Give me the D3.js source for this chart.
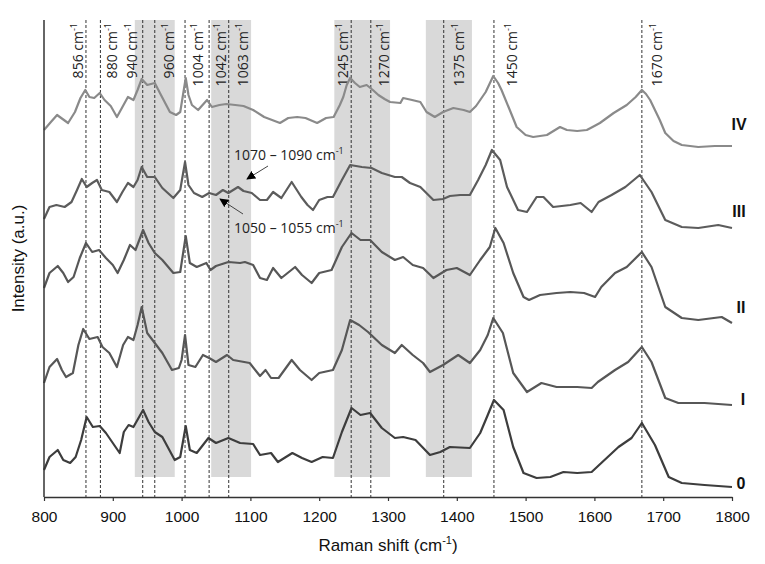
<!DOCTYPE html>
<html><head><meta charset="utf-8">
<script src="https://cdn.jsdelivr.net/npm/d3@7"></script>
<style>body{margin:0;background:#fff} svg{display:block}</style>
</head><body><svg id="chart" width="765" height="564"></svg>
<script>
// ---------- data ----------
const xTicks = [800, 900, 1000, 1100, 1200, 1300, 1400, 1500, 1600, 1700, 1800];
const bands = [[932, 990], [1043, 1101], [1222, 1303], [1355, 1422]];
const markerShifts = [861, 882, 943.5, 961, 1005, 1040, 1068.5, 1246.5, 1275, 1381, 1454, 1669];
const markerLabels = ["856", "880", "940", "960", "1004", "1042", "1063", "1245", "1270", "1375", "1450", "1670"];
const seriesNames = ["IV", "III", "II", "I", "0"];
const annotationTexts = ["1070 – 1090", "1050 – 1055"];

const seriesIV = [[800,367],[810,375],[819,382],[827,378],[835,374],[845,385],[853,399],[860,407],[866,400],[873,399],[881,404],[888,397],[897,391],[906,380],[914,390],[922,400],[930,397],[936,407],[942,418],[950,412],[961,414],[970,402],[983,385],[992,382],[998,385],[1002,402],[1006,419],[1010,402],[1015,392],[1024,387],[1037,397],[1044,390],[1055,392],[1065,393],[1078,392],[1090,391],[1104,387],[1120,380],[1143,374],[1155,379],[1168,380],[1180,379],[1197,374],[1210,379],[1221,380],[1230,392],[1235,400],[1240,412],[1245,419],[1252,414],[1259,410],[1269,412],[1278,407],[1286,402],[1295,398],[1303,395],[1318,394],[1322,399],[1335,397],[1347,395],[1356,385],[1368,380],[1380,385],[1395,389],[1410,387],[1419,385],[1428,391],[1434,397],[1442,405],[1453,421],[1460,414],[1465,407],[1477,387],[1487,370],[1500,362],[1511,360],[1531,362],[1550,370],[1560,367],[1575,366],[1589,367],[1600,371],[1608,374],[1628,384],[1647,392],[1660,400],[1669,407],[1675,403],[1681,397],[1695,377],[1703,364],[1715,356],[1727,352],[1751,350],[1775,351],[1800,351]];

const seriesIII = [[800,278],[808,290],[818,292],[830,290],[840,295],[848,307],[855,318],[862,310],[870,314],[877,317],[884,307],[895,305],[906,295],[914,305],[922,314],[930,310],[936,317],[942,330],[950,320],[961,320],[972,309],[988,299],[998,307],[1005,335],[1010,312],[1018,304],[1030,300],[1040,304],[1050,302],[1060,307],[1068,304],[1082,310],[1090,306],[1102,304],[1114,297],[1124,297],[1133,305],[1145,299],[1160,315],[1174,300],[1183,292],[1191,287],[1200,297],[1212,300],[1220,300],[1233,317],[1245,332],[1262,330],[1276,329],[1291,324],[1310,320],[1320,320],[1332,314],[1347,310],[1366,297],[1380,298],[1390,301],[1405,302],[1419,302],[1431,317],[1442,332],[1451,347],[1463,337],[1473,310],[1489,287],[1502,285],[1516,300],[1526,300],[1540,290],[1565,292],[1580,294],[1596,285],[1606,295],[1625,302],[1645,310],[1666,322],[1683,305],[1703,277],[1727,270],[1751,269],[1780,272],[1800,269]];

const seriesII = [[800,209],[808,224],[820,231],[828,224],[835,215],[843,220],[852,239],[861,254],[870,245],[880,247],[890,239],[900,232],[907,224],[916,237],[925,252],[933,247],[944,267],[952,254],[961,244],[972,237],[988,224],[998,225],[1006,261],[1012,234],[1022,230],[1036,234],[1042,227],[1050,231],[1068,235],[1085,234],[1092,235],[1104,232],[1114,219],[1124,217],[1133,229],[1145,219],[1165,230],[1175,222],[1189,214],[1200,224],[1218,227],[1233,250],[1247,264],[1260,257],[1274,257],[1291,245],[1310,237],[1322,240],[1336,232],[1351,229],[1366,219],[1385,227],[1400,229],[1419,222],[1434,237],[1448,250],[1456,269],[1468,254],[1482,224],[1497,200],[1505,197],[1521,202],[1545,204],[1565,205],[1585,204],[1601,200],[1610,210],[1630,224],[1647,230],[1669,245],[1683,230],[1703,190],[1727,179],[1751,177],[1785,180],[1800,174]];

const seriesI = [[800,114],[808,130],[819,138],[826,127],[832,120],[842,124],[850,152],[857,168],[866,158],[878,160],[885,150],[895,144],[906,130],[915,152],[922,160],[930,157],[936,172],[942,190],[950,164],[961,154],[972,144],[986,127],[996,129],[1000,137],[1005,162],[1010,132],[1020,130],[1031,142],[1040,139],[1050,135],[1066,142],[1075,137],[1099,134],[1114,121],[1122,127],[1130,119],[1141,119],[1160,137],[1172,127],[1189,117],[1200,124],[1220,127],[1233,147],[1245,177],[1258,172],[1271,165],[1291,152],[1310,144],[1320,152],[1336,142],[1351,134],[1361,125],[1380,132],[1402,142],[1419,134],[1434,147],[1445,162],[1453,179],[1467,164],[1482,124],[1502,105],[1523,114],[1545,110],[1575,110],[1596,109],[1605,115],[1630,127],[1649,135],[1669,150],[1683,135],[1703,99],[1722,94],[1760,94],[1800,92]];

const series0 = [[800,27],[808,40],[820,47],[828,37],[838,34],[846,40],[854,57],[862,80],[871,70],[881,71],[890,64],[900,54],[910,44],[916,65],[923,72],[930,70],[944,87],[952,75],[961,65],[972,60],[990,37],[998,40],[1006,71],[1012,47],[1022,44],[1039,59],[1050,54],[1068,59],[1085,54],[1104,53],[1114,42],[1130,44],[1140,35],[1161,44],[1175,39],[1189,35],[1205,40],[1220,39],[1233,65],[1247,89],[1260,82],[1274,84],[1291,69],[1310,59],[1322,60],[1340,57],[1361,42],[1376,45],[1390,50],[1419,49],[1434,64],[1445,82],[1454,97],[1468,87],[1482,50],[1497,24],[1516,19],[1536,20],[1555,25],[1575,24],[1596,25],[1610,34],[1635,50],[1654,59],[1669,74],[1688,52],[1708,20],[1727,14],[1760,12],[1800,10]];

const allSeries = [seriesIV, seriesIII, seriesII, seriesI, series0];

// ---------- layout / style ----------
const W = 765, H = 564;
const m = {left: 44, right: 33, top: 20, bottom: 67};
const seriesColors = ["#8a8a8a", "#5c5c5c", "#575757", "#575757", "#3d3d3d"];
const seriesLabelPos = [[739, 130], [739, 217], [741, 313], [743, 405], [741, 489]];
const markerLabelDx = [-3, 17, -6, 19, 18, 17, 19, -3, 18, 20, 23, 20];
const annotationLayout = [
  {tx: 234, ty: 160, x1: 268, y1: 166, x2: 247, y2: 179},
  {tx: 234, ty: 233, x1: 243, y1: 214, x2: 220, y2: 199}
];

const svg = d3.select("#chart");
const x = d3.scaleLinear().domain([800, 1800]).range([m.left, W - m.right]);
const y = d3.scaleLinear().domain([0, 477]).range([H - m.bottom, m.top]);

// bands
svg.append("g").selectAll("rect").data(bands).join("rect")
  .attr("x", d => x(d[0])).attr("width", d => x(d[1]) - x(d[0]))
  .attr("y", y(477)).attr("height", y(20) - y(477))
  .attr("fill", "#d9d9d9");

// dashed marker lines
svg.append("g").selectAll("line").data(markerShifts).join("line")
  .attr("x1", d => x(d)).attr("x2", d => x(d))
  .attr("y1", y(477)).attr("y2", y(0))
  .attr("stroke", "#333").attr("stroke-width", 1).attr("stroke-dasharray", "3,2");

// marker labels
const lab = svg.append("g").selectAll("text").data(markerShifts).join("text")
  .attr("transform", (d, i) => `translate(${x(d) + markerLabelDx[i]},23) rotate(-90)`)
  .attr("text-anchor", "end")
  .attr("font-family", "'Open Sans', sans-serif").attr("font-size", 14).attr("fill", "#222");
lab.append("tspan").text((d, i) => markerLabels[i] + " cm");
lab.append("tspan").attr("font-size", 9).attr("dy", -6).text("-1");

// curves
const line = d3.line().x(d => x(d[0])).y(d => y(d[1])).curve(d3.curveLinear);
svg.append("g").selectAll("path").data(allSeries).join("path")
  .attr("d", line).attr("fill", "none")
  .attr("stroke", (d, i) => seriesColors[i]).attr("stroke-width", 2.2)
  .attr("stroke-linejoin", "round");

// series labels
svg.append("g").selectAll("text").data(seriesNames).join("text")
  .attr("x", (d, i) => seriesLabelPos[i][0]).attr("y", (d, i) => seriesLabelPos[i][1])
  .attr("text-anchor", "middle")
  .attr("font-family", "'Liberation Sans', Arial, sans-serif").attr("font-weight", "bold")
  .attr("font-size", 16).attr("fill", "#111").text(d => d);

// annotations
svg.append("defs").append("marker").attr("id", "ah")
  .attr("viewBox", "0 0 10 10").attr("refX", 9).attr("refY", 5)
  .attr("markerWidth", 9).attr("markerHeight", 9).attr("markerUnits", "userSpaceOnUse")
  .attr("orient", "auto")
  .append("path").attr("d", "M0,0 L10,5 L0,10 Z").attr("fill", "#000");
const ann = svg.append("g");
annotationLayout.forEach((a, i) => {
  ann.append("line").attr("x1", a.x1).attr("y1", a.y1).attr("x2", a.x2).attr("y2", a.y2)
    .attr("stroke", "#444").attr("stroke-width", 1).attr("marker-end", "url(#ah)");
  const t = ann.append("text").attr("x", a.tx).attr("y", a.ty)
    .attr("font-family", "'Open Sans', sans-serif").attr("font-size", 14).attr("fill", "#222");
  t.append("tspan").text(annotationTexts[i] + " cm");
  t.append("tspan").attr("font-size", 9).attr("dy", -6).text("-1");
});

// axes
const xAxis = d3.axisBottom(x).tickValues(xTicks).tickFormat(d3.format("d"))
  .tickSize(4).tickSizeOuter(0).tickPadding(10);
const gx = svg.append("g").attr("transform", `translate(0,${H - m.bottom})`).call(xAxis);
gx.select(".domain").attr("stroke", "#333").attr("stroke-width", 1.5);
gx.selectAll(".tick line").attr("stroke", "#333").attr("stroke-width", 1.2);
gx.selectAll("text").attr("font-family", "'Liberation Sans', Arial, sans-serif")
  .attr("font-size", 15.5).attr("fill", "#111");

svg.append("line").attr("x1", m.left).attr("x2", m.left)
  .attr("y1", m.top).attr("y2", H - m.bottom)
  .attr("stroke", "#333").attr("stroke-width", 1.5);

// axis titles
const xt = svg.append("text").attr("x", (m.left + W - m.right) / 2).attr("y", 551)
  .attr("text-anchor", "middle")
  .attr("font-family", "'Liberation Sans', Arial, sans-serif").attr("font-size", 17).attr("fill", "#111");
xt.append("tspan").text("Raman shift (cm");
xt.append("tspan").attr("font-size", 11).attr("dy", -7).text("-1");
xt.append("tspan").attr("dy", 7).text(")");

svg.append("text").attr("transform", `translate(24,${(m.top + H - m.bottom) / 2}) rotate(-90)`)
  .attr("text-anchor", "middle")
  .attr("font-family", "'Liberation Sans', Arial, sans-serif").attr("font-size", 17).attr("fill", "#111")
  .text("Intensity (a.u.)");
</script></body></html>
